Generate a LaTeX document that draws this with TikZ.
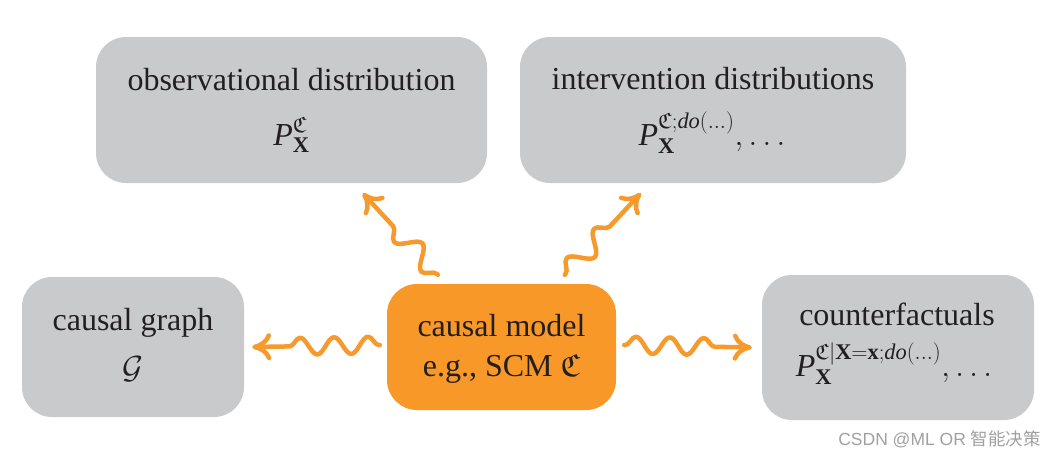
\RequirePackage{fix-cm}
\documentclass[tikz,border=0pt]{standalone}
\usepackage{amsmath,amssymb}
\usepackage{fontspec}
\setmainfont{Liberation Serif}
\newfontfamily\cjkwm{Noto Sans CJK SC}
\newfontfamily\latwm{Liberation Sans}
\DeclareFontFamily{U}{euf}{}
\DeclareFontShape{U}{euf}{m}{n}{<-> eufm10}{}
\DeclareFontShape{U}{euf}{b}{n}{<-> eufb10}{}
\usetikzlibrary{arrows.meta,decorations.pathmorphing}
\definecolor{boxgray}{RGB}{201,202,204}
\definecolor{boxorange}{RGB}{247,152,41}
\definecolor{arrorange}{RGB}{246,154,45}
\definecolor{txtcol}{RGB}{35,31,32}
\definecolor{wmgray}{RGB}{160,160,160}
\tikzset{
  gbox/.style={rectangle, rounded corners=30pt, fill=boxgray, draw=none, inner sep=0pt},
  obox/.style={rectangle, rounded corners=30pt, fill=boxorange, draw=none, inner sep=0pt},
  txt/.style={inner sep=0pt, text=txtcol, font=\fontsize{32}{38}\selectfont},
  wig/.style={draw=arrorange, line width=4.5pt, line cap=round, line join=round,
    decorate, decoration={snake, segment length=34pt, amplitude=8.5pt, pre length=1pt, post length=24pt},
    -{To[length=19pt,width=27pt]}},
  wigm/.style={wig, decoration={mirror}},
  wigd/.style={wig, decoration={snake, segment length=40pt, amplitude=10pt, pre length=1pt, post length=26pt}},
}
\begin{document}
\begin{tikzpicture}[x=1pt,y=1pt]
\useasboundingbox (0,0) rectangle (1056,-458);
% boxes
\node[gbox, minimum width=391pt, minimum height=146pt] (obs) at (291.5,-110) {};
\node[gbox, minimum width=386pt, minimum height=146pt] (int) at (713,-110) {};
\node[gbox, minimum width=222pt, minimum height=140pt] (cg) at (133,-347) {};
\node[obox, minimum width=229pt, minimum height=126pt] (cm) at (501.5,-347) {};
\node[gbox, minimum width=272pt, minimum height=145pt] (cf) at (898,-347.5) {};
% texts
\node[txt, anchor=base] (obsT) at (291.5,-90) {observational distribution};
\node[txt, anchor=base] (obsM) at (291.5,-145) {$\textit{P}^{\mathfrak{C}}_{\textbf{X}}$};
\node[txt, anchor=base] (intT) at (713,-89) {intervention distributions};
\node[txt, anchor=base] (intM) at (712,-145) {$\textit{P}^{\mathfrak{C};\textit{do}(\ldots)}_{\textbf{X}},\ldots$};
\node[txt, anchor=base] (cgT) at (133,-330) {causal graph};
\node[txt, anchor=base] (cgM) at (133,-378) {$\mathcal{G}$};
\node[txt, anchor=base] (cmT) at (501.5,-336) {causal model};
\node[txt, anchor=base] (cmM) at (501.5,-376) {e.g., SCM $\mathfrak{C}$};
\node[txt, anchor=base] (cfT) at (897,-325) {counterfactuals};
\node[txt, anchor=base] (cfM) at (894,-376) {$\textit{P}^{\mathfrak{C}|\textbf{X}{=}\textbf{x};\textit{do}(\ldots)}_{\textbf{X}},\ldots$};
% watermark
\node[inner sep=0pt, anchor=base east, text=wmgray, font=\fontsize{17.5}{20}\selectfont] (wm) at (1041,-445) {\latwm CSDN @ML OR \cjkwm 智能决策};
% arrows
\draw[wigm] ([xshift=-7pt,yshift=2pt]cm.west) -- ([xshift=8pt]cg.east);
\draw[wig] ([xshift=8pt,yshift=2pt]cm.east) -- ([xshift=-10pt]cf.west);
\draw[wigd] ([xshift=51pt,yshift=9pt]cm.north west) -- ([xshift=267pt,yshift=-10pt]obs.south west);
\draw[wigd] ([xshift=178pt,yshift=9pt]cm.north west) -- ([xshift=121pt,yshift=-10pt]int.south west);
\end{tikzpicture}
\end{document}
